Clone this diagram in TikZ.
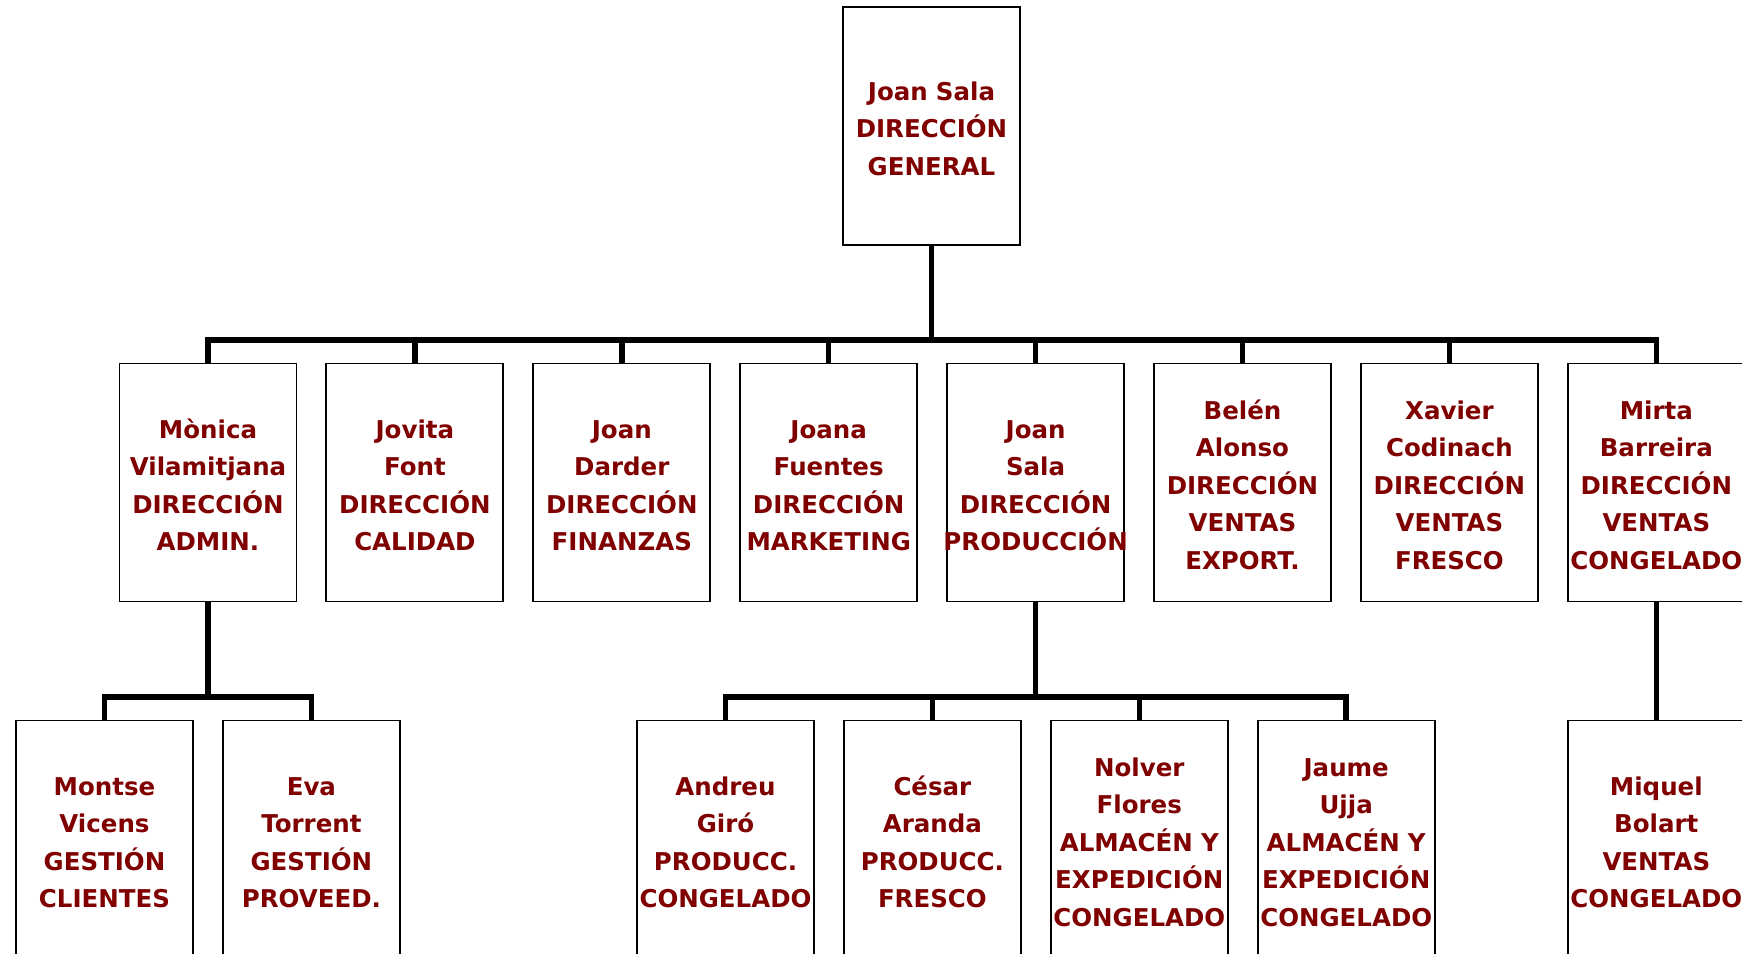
\documentclass[tikz,border=0pt]{standalone}
\usepackage{fontspec}
\setmainfont{DejaVu Sans}
\definecolor{txtred}{RGB}{128,0,0}
\newcommand\overw[1]{\makebox[0pt]{#1}}
\tikzset{
  orgbox/.style={draw=black, line width=1.9pt, fill=white,
    minimum width=177pt, minimum height=238pt, inner sep=0pt,
    text width=177pt, align=center, text=txtred,
    font=\fontsize{24.5}{37.5}\selectfont\bfseries,
    execute at begin node={\rule{0pt}{24pt}}},
  conn/.style={line width=5.5pt, draw=black},
}
\begin{document}
\begin{tikzpicture}[x=1pt,y=-1pt]
\useasboundingbox (0,0) rectangle (1742,953);
\clip (0,0) rectangle (1742,953);
% top
\node[orgbox] (top) at (931.5,126) {Joan Sala\\DIRECCIÓN\\GENERAL};
% row 2
\node[orgbox] (b1) at (208,482.5) {Mònica\\Vilamitjana\\DIRECCIÓN\\ADMIN.};
\node[orgbox] (b2) at (414.9,482.5) {Jovita\\Font\\DIRECCIÓN\\CALIDAD};
\node[orgbox] (b3) at (621.8,482.5) {Joan\\Darder\\DIRECCIÓN\\FINANZAS};
\node[orgbox] (b4) at (828.7,482.5) {Joana\\Fuentes\\DIRECCIÓN\\\overw{MARKETING}};
\node[orgbox] (b5) at (1035.6,482.5) {Joan\\Sala\\DIRECCIÓN\\\overw{PRODUCCIÓN}};
\node[orgbox] (b6) at (1242.5,482.5) {Belén\\Alonso\\DIRECCIÓN\\VENTAS\\EXPORT.};
\node[orgbox] (b7) at (1449.4,482.5) {Xavier\\Codinach\\DIRECCIÓN\\VENTAS\\FRESCO};
\node[orgbox] (b8) at (1656.3,482.5) {Mirta\\Barreira\\DIRECCIÓN\\VENTAS\\\overw{CONGELADO}};
% row 3
\node[orgbox] (c1) at (104.5,839.5) {Montse\\Vicens\\GESTIÓN\\CLIENTES};
\node[orgbox] (c2) at (311.4,839.5) {Eva\\Torrent\\GESTIÓN\\PROVEED.};
\node[orgbox] (c3) at (725.5,839.5) {Andreu\\Giró\\PRODUCC.\\\overw{CONGELADO}};
\node[orgbox] (c4) at (932.4,839.5) {César\\Aranda\\PRODUCC.\\FRESCO};
\node[orgbox] (c5) at (1139.3,839.5) {Nolver\\Flores\\ALMACÉN Y\\\overw{EXPEDICIÓN}\\\overw{CONGELADO}};
\node[orgbox] (c6) at (1346.2,839.5) {Jaume\\Ujja\\ALMACÉN Y\\\overw{EXPEDICIÓN}\\\overw{CONGELADO}};
\node[orgbox] (c7) at (1656.3,839.5) {Miquel\\Bolart\\VENTAS\\\overw{CONGELADO}};
% buses
\coordinate (bus1) at (931.5,340);
\coordinate (bus2) at (208,697);
\coordinate (bus3) at (1035.6,697);
% connectors
\draw[conn] (top.south) -- (bus1);
\foreach \n in {b1,b2,b3,b4,b5,b6,b7,b8}
  \draw[conn] (bus1) -| (\n.north);
\draw[conn] (b1.south) -- (bus2);
\foreach \n in {c1,c2}
  \draw[conn] (bus2) -| (\n.north);
\draw[conn] (b5.south) -- (bus3);
\foreach \n in {c3,c4,c5,c6}
  \draw[conn] (bus3) -| (\n.north);
\draw[conn] (b8.south) -- (c7.north);
\end{tikzpicture}
\end{document}
